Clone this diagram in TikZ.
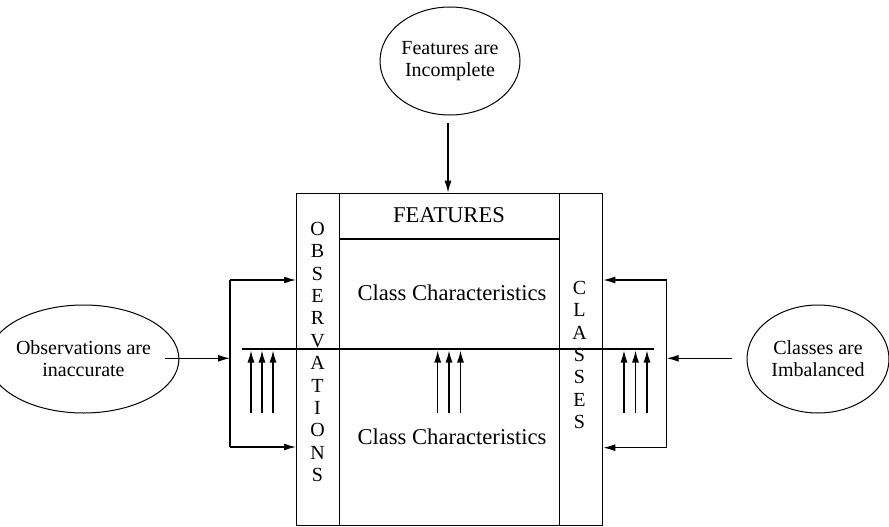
\documentclass[tikz,border=0pt]{standalone}
\usepackage{fontspec}
\setmainfont{Liberation Serif}
\usetikzlibrary{shapes.geometric,arrows.meta}
\begin{document}
\begin{tikzpicture}[x=1pt,y=-1pt,
  ln/.style={line width=1.3pt},
  tip/.style={-{Latex[length=12pt,width=7pt]}},
  causeell/.style={draw,ellipse,line width=1pt,inner sep=0pt,align=center,font=\fontsize{20}{22}\selectfont},
  region/.style={draw,ln,rectangle,inner sep=0pt,anchor=north west},
  bigtext/.style={font=\fontsize{22.6}{26}\selectfont},
  vtext/.style={align=center,inner sep=0pt,font=\fontsize{20}{22.4}\selectfont}]
\useasboundingbox (0,0) rectangle (889,527);
% main box parts
\node[region,minimum width=306pt,minimum height=332.3pt] (box) at (296,192.7) {};
\node[region,minimum width=43pt,minimum height=332.3pt] (obs) at (296,192.7) {};
\node[region,minimum width=43.3pt,minimum height=332.3pt] (cls) at (558.7,192.7) {};
\node[region,minimum width=219.7pt,minimum height=45.6pt] (feat) at (339,192.7) {};
\node[bigtext] (ftxt) at (449,215) {FEATURES};
\node[bigtext] (cc1) at (452,293) {Class Characteristics};
\node[bigtext] (cc2) at (452,437) {Class Characteristics};
\node[vtext] (obstxt) at (317.5,352) {O\\B\\S\\E\\R\\V\\A\\T\\I\\O\\N\\S};
\node[vtext] (clstxt) at (579.5,355) {C\\L\\A\\S\\S\\E\\S};
% horizontal boundary line
\coordinate (hl) at (241.7,349);
\coordinate (hr) at (654.3,349);
\draw[ln] (hl) -- (hr);
% upward small arrows
\foreach \x/\n in {251/a1,262/a2,273/a3,437.7/b1,449/b2,460.5/b3,624/c1,635.5/c2,647/c3}{
  \coordinate (\n s) at (\x,413);
  \coordinate (\n e) at (\x,350.5);
  \draw[ln,tip] (\n s) -- (\n e);
}
% cause ellipses
\node[causeell,minimum width=140pt,minimum height=108pt] (incomplete) at (450,61) {Features are\\Incomplete};
\node[causeell,minimum width=153pt,minimum height=108pt] (inacc) at (83.5,359) {Observations are\\inaccurate};
\node[causeell,minimum width=142pt,minimum height=108pt] (imbal) at (818,359) {Classes are\\Imbalanced};
% top arrow
\coordinate (ttop) at (448,123);
\draw[ln,tip] (ttop) -- (ttop |- box.north);
% left bracket
\coordinate (lt) at (230,280);
\coordinate (lm) at (230,358.3);
\coordinate (lb) at (230,447);
\draw[ln] (lt) -- (lb);
\draw[ln,tip] (lt) -- (lt -| obs.west);
\draw[ln,tip] (lb) -- (lb -| obs.west);
\coordinate (ls) at (165,358.3);
\draw[ln,tip] (ls) -- (lm);
% right bracket
\coordinate (rt) at (666.7,280);
\coordinate (rm) at (666.7,358.3);
\coordinate (rb) at (666.7,447.7);
\draw[ln] (rt) -- (rb);
\draw[ln,tip] (rt) -- (rt -| cls.east);
\draw[ln,tip] (rb) -- (rb -| cls.east);
\coordinate (rs) at (731.7,358.3);
\draw[ln,tip] (rs) -- (rm);
\end{tikzpicture}
\end{document}
